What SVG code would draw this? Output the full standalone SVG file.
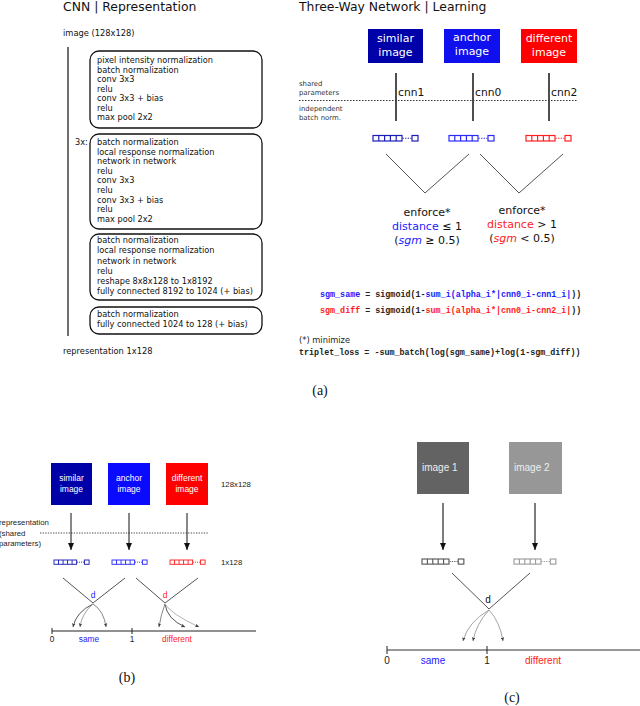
<svg xmlns="http://www.w3.org/2000/svg" xmlns:xlink="http://www.w3.org/1999/xlink" width="640" height="706" viewBox="0 0 640 706">
<style>
.sans{font-family:"DejaVu Sans","Noto Sans",sans-serif;}
.hel{font-family:"Liberation Sans",Arial,sans-serif;}
.mono{font-family:"Liberation Mono","Courier New",monospace;font-weight:bold;font-size:8.4px;}
.serif{font-family:"Liberation Serif","Times New Roman",serif;font-size:14px;}
.box{fill:none;stroke:#111;stroke-width:1.3;}
.bt{font-size:8.2px;fill:#111;}
.blue{fill:#1a1aff;}
.red{fill:#ff1a1a;}
.arm{stroke:#555;stroke-width:1;fill:none;}
.cur{fill:none;stroke-width:0.9;}
</style>
<defs>
<g id="vec" fill="none" stroke="currentColor" stroke-width="1.2">
<rect x="0" y="0" width="29" height="5.5"/>
<line x1="5.8" y1="0" x2="5.8" y2="5.5"/>
<line x1="11.6" y1="0" x2="11.6" y2="5.5"/>
<line x1="17.4" y1="0" x2="17.4" y2="5.5"/>
<line x1="23.2" y1="0" x2="23.2" y2="5.5"/>
<line x1="29.5" y1="2.75" x2="38.5" y2="2.75" stroke-dasharray="1.3,1.3"/>
<rect x="39" y="0" width="6" height="5.5"/>
</g>
<marker id="ah" markerWidth="8" markerHeight="8" refX="7" refY="4" orient="auto" markerUnits="userSpaceOnUse">
<path d="M0,1 L7,4 L0,7 Z" fill="#111"/>
</marker>
<marker id="sh" markerWidth="4" markerHeight="4" refX="3.5" refY="2" orient="auto" markerUnits="userSpaceOnUse">
<path d="M0,0.3 L3.5,2 L0,3.7 Z" fill="#444"/>
</marker>
</defs>

<!-- Panel (a) left: CNN -->
<g id="cnn-panel">
<text class="sans" x="63" y="11" font-size="12.4" fill="#111">CNN | Representation</text>
<text class="sans" x="63" y="36" font-size="8.3" fill="#111">image (128x128)</text>
<line x1="68" y1="47" x2="68" y2="336" stroke="#222" stroke-width="1.3"/>
<text class="sans" x="63" y="354" font-size="8.3" fill="#111">representation 1x128</text>
</g>
<g id="block1">
<rect class="box" x="90" y="51" width="172" height="77" rx="9"/>
<text class="sans bt" x="97" y="63">pixel intensity normalization</text>
<text class="sans bt" x="97" y="72.5">batch normalization</text>
<text class="sans bt" x="97" y="82">conv 3x3</text>
<text class="sans bt" x="97" y="91.5">relu</text>
<text class="sans bt" x="97" y="101">conv 3x3 + bias</text>
<text class="sans bt" x="97" y="110.5">relu</text>
<text class="sans bt" x="97" y="120">max pool 2x2</text>
</g>
<g id="block2">
<text class="sans bt" x="75" y="145">3x:</text>
<rect class="box" x="90" y="134" width="172" height="95" rx="9"/>
<text class="sans bt" x="97" y="145">batch normalization</text>
<text class="sans bt" x="97" y="154.6">local response normalization</text>
<text class="sans bt" x="97" y="164.2">network in network</text>
<text class="sans bt" x="97" y="173.8">relu</text>
<text class="sans bt" x="97" y="183.4">conv 3x3</text>
<text class="sans bt" x="97" y="193">relu</text>
<text class="sans bt" x="97" y="202.6">conv 3x3 + bias</text>
<text class="sans bt" x="97" y="212.2">relu</text>
<text class="sans bt" x="97" y="221.8">max pool 2x2</text>
</g>
<g id="block3">
<rect class="box" x="90" y="234" width="172" height="66" rx="9"/>
<text class="sans bt" x="97" y="243">batch normalization</text>
<text class="sans bt" x="97" y="253">local response normalization</text>
<text class="sans bt" x="97" y="263.5">network in network</text>
<text class="sans bt" x="97" y="274">relu</text>
<text class="sans bt" x="97" y="284">reshape 8x8x128 to 1x8192</text>
<text class="sans bt" x="97" y="294">fully connected 8192 to 1024 (+ bias)</text>
</g>
<g id="block4">
<rect class="box" x="90" y="307" width="172" height="27" rx="9"/>
<text class="sans bt" x="97" y="317">batch normalization</text>
<text class="sans bt" x="97" y="327">fully connected 1024 to 128 (+ bias)</text>
</g>

<!-- Panel (a) right: three-way network -->
<g id="tw-title">
<text class="sans" x="299" y="11" font-size="12.4" fill="#111">Three-Way Network | Learning</text>
<text class="sans" x="299" y="86" font-size="6.9" fill="#333">shared</text>
<text class="sans" x="299" y="94.5" font-size="6.9" fill="#333">parameters</text>
<text class="sans" x="299" y="111" font-size="6.9" fill="#333">independent</text>
<text class="sans" x="299" y="120" font-size="6.9" fill="#333">batch norm.</text>
</g>
<g id="similar-image">
<rect x="368" y="29" width="55" height="34" fill="#0000a8"/>
<text class="sans" x="395.5" y="42" font-size="11" fill="#fff" text-anchor="middle">similar</text>
<text class="sans" x="395.5" y="56" font-size="11" fill="#fff" text-anchor="middle">image</text>
</g>
<g id="anchor-image">
<rect x="444" y="29" width="56" height="34" fill="#1010ee"/>
<text class="sans" x="472" y="41" font-size="11" fill="#fff" text-anchor="middle">anchor</text>
<text class="sans" x="472" y="55" font-size="11" fill="#fff" text-anchor="middle">image</text>
</g>
<g id="different-image">
<rect x="521" y="29" width="56" height="34" fill="#ff0000"/>
<text class="sans" x="549" y="42" font-size="11" fill="#fff" text-anchor="middle">different</text>
<text class="sans" x="549" y="56" font-size="11" fill="#fff" text-anchor="middle">image</text>
</g>
<g id="cnn1">
<line x1="396" y1="73" x2="396" y2="121" stroke="#222" stroke-width="1.6"/>
<text class="sans" x="398" y="96" font-size="10.7" fill="#111">cnn1</text>
<use xlink:href="#vec" x="373" y="135.5" style="color:#1c1cb8"/>
</g>
<g id="cnn0">
<line x1="473" y1="73" x2="473" y2="121" stroke="#222" stroke-width="1.6"/>
<text class="sans" x="475" y="96" font-size="10.7" fill="#111">cnn0</text>
<use xlink:href="#vec" x="449" y="135.5" style="color:#2a2aff"/>
</g>
<g id="cnn2">
<line x1="549" y1="73" x2="549" y2="121" stroke="#222" stroke-width="1.6"/>
<text class="sans" x="551" y="96" font-size="10.7" fill="#111">cnn2</text>
<use xlink:href="#vec" x="526" y="135.5" style="color:#ff2020"/>
</g>
<g id="enforce-same">
<text class="sans" x="427" y="216" font-size="11" fill="#111" text-anchor="middle">enforce*</text>
<text class="sans" x="427" y="230" font-size="11" fill="#111" text-anchor="middle"><tspan class="blue">distance</tspan> ≤ 1</text>
<text class="sans" x="427" y="244" font-size="11" fill="#111" text-anchor="middle">(<tspan class="blue" font-style="italic">sgm</tspan> ≥ 0.5)</text>
</g>
<g id="enforce-diff">
<text class="sans" x="522" y="214" font-size="11" fill="#111" text-anchor="middle">enforce*</text>
<text class="sans" x="522" y="228" font-size="11" fill="#111" text-anchor="middle"><tspan class="red">distance</tspan> &gt; 1</text>
<text class="sans" x="522" y="242" font-size="11" fill="#111" text-anchor="middle">(<tspan class="red" font-style="italic">sgm</tspan> &lt; 0.5)</text>
</g>
<g id="formulas">
<text class="mono" x="320" y="297" fill="#222"><tspan fill="#1a1aff">sgm_same</tspan><tspan> = sigmoid(1-</tspan><tspan fill="#1a1aff">sum_i(alpha_i*|cnn0_i-cnn1_i|</tspan><tspan>))</tspan></text>
<text class="mono" x="320" y="313" fill="#222"><tspan fill="#ff1a1a">sgm_diff</tspan><tspan> = sigmoid(1-</tspan><tspan fill="#ff1a1a">sum_i(alpha_i*|cnn0_i-cnn2_i|</tspan><tspan>))</tspan></text>
<text class="sans" x="299" y="343" font-size="8.3" fill="#222">(*) minimize</text>
<text class="mono" x="299" y="355" fill="#222">triplet_loss = -sum_batch(log(sgm_same)+log(1-sgm_diff))</text>
</g>
<g id="labels">
<text class="serif" x="320" y="395" text-anchor="middle" fill="#111">(a)</text>
<text class="serif" x="127" y="682" text-anchor="middle" fill="#111">(b)</text>
<text class="serif" x="512" y="702" text-anchor="middle" fill="#111">(c)</text>
</g>

<!-- Panel (b) -->
<g id="b-text">
<text class="hel" x="-1" y="525" font-size="7.8" fill="#222">representation</text>
<text class="hel" x="-1" y="536" font-size="7.8" fill="#222">(shared</text>
<text class="hel" x="-1" y="546" font-size="7.8" fill="#222">parameters)</text>
<text class="hel" x="221" y="487" font-size="7.8" fill="#222">128x128</text>
<text class="hel" x="221" y="565" font-size="7.8" fill="#222">1x128</text>
</g>
<g id="b-similar">
<rect x="51" y="463" width="41" height="42" fill="#0000a8"/>
<text class="hel" x="71.5" y="481" font-size="8.5" fill="#fff" text-anchor="middle">similar</text>
<text class="hel" x="71.5" y="492" font-size="8.5" fill="#fff" text-anchor="middle">image</text>
<use xlink:href="#vec" transform="translate(54,560) scale(0.78)" style="color:#1c1cb8"/>
</g>
<g id="b-anchor">
<rect x="108" y="463" width="42" height="42" fill="#0a0aff"/>
<text class="hel" x="129" y="481" font-size="8.5" fill="#fff" text-anchor="middle">anchor</text>
<text class="hel" x="129" y="492" font-size="8.5" fill="#fff" text-anchor="middle">image</text>
<use xlink:href="#vec" transform="translate(112,560) scale(0.78)" style="color:#2a2aff"/>
</g>
<g id="b-different">
<rect x="166" y="463" width="42" height="42" fill="#ff0000"/>
<text class="hel" x="187" y="481" font-size="8.5" fill="#fff" text-anchor="middle">different</text>
<text class="hel" x="187" y="492" font-size="8.5" fill="#fff" text-anchor="middle">image</text>
<use xlink:href="#vec" transform="translate(170,560) scale(0.78)" style="color:#ff2020"/>
</g>
<g id="b-axis">
<line x1="52" y1="631" x2="256" y2="631" stroke="#222" stroke-width="1.2"/>
<line x1="52" y1="628" x2="52" y2="634" stroke="#222" stroke-width="1"/>
<line x1="132" y1="628" x2="132" y2="634" stroke="#222" stroke-width="1"/>
<text class="hel" x="52" y="642" font-size="8.3" fill="#222" text-anchor="middle">0</text>
<text class="hel" x="89" y="642" font-size="8.3" fill="#1a1aff" text-anchor="middle">same</text>
<text class="hel" x="132" y="642" font-size="8.3" fill="#222" text-anchor="middle">1</text>
<text class="hel" x="177" y="642" font-size="8.3" fill="#ff1a1a" text-anchor="middle">different</text>
<text class="hel" x="93" y="598" font-size="8.5" fill="#1a1aff" text-anchor="middle">d</text>
<text class="hel" x="165" y="598" font-size="8.5" fill="#ff1a1a" text-anchor="middle">d</text>
</g>

<!-- Panel (c) -->
<g id="c-image1">
<rect x="417" y="442" width="52" height="52" fill="#636363"/>
<text class="hel" x="422" y="471" font-size="10" fill="#eee">image 1</text>
<use xlink:href="#vec" transform="translate(422,559) scale(0.93)" style="color:#555"/>
</g>
<g id="c-image2">
<rect x="509" y="442" width="53" height="52" fill="#979797"/>
<text class="hel" x="514" y="471" font-size="10" fill="#eee">image 2</text>
<use xlink:href="#vec" transform="translate(514,559) scale(0.93)" style="color:#9a9a9a"/>
</g>
<g id="c-axis">
<line x1="387" y1="650" x2="640" y2="650" stroke="#333" stroke-width="1.2"/>
<line x1="387" y1="646" x2="387" y2="654" stroke="#222" stroke-width="1"/>
<line x1="487" y1="646" x2="487" y2="654" stroke="#222" stroke-width="1"/>
<text class="hel" x="387" y="664" font-size="10" fill="#222" text-anchor="middle">0</text>
<text class="hel" x="433" y="664" font-size="10" fill="#1a1aff" text-anchor="middle">same</text>
<text class="hel" x="487" y="664" font-size="10" fill="#222" text-anchor="middle">1</text>
<text class="hel" x="543" y="664" font-size="10" fill="#ff1a1a" text-anchor="middle">different</text>
<text class="hel" x="488" y="603" font-size="10" fill="#111" text-anchor="middle">d</text>
</g>

<g id="connectors">
<!-- (a) dotted separator -->
<line x1="299" y1="100.5" x2="577" y2="100.5" stroke="#333" stroke-width="1" stroke-dasharray="1.5,1.5"/>
<!-- (a) V lines -->
<polyline class="arm" points="386,154 425,193 469,154"/>
<polyline class="arm" points="480,154 519,193 563,154"/>
<!-- (b) -->
<line x1="40" y1="533" x2="208" y2="533" stroke="#333" stroke-width="0.9" stroke-dasharray="1.3,1.3"/>
<line x1="71" y1="513" x2="71" y2="550" stroke="#111" stroke-width="1" marker-end="url(#ah)"/>
<line x1="129" y1="513" x2="129" y2="550" stroke="#111" stroke-width="1" marker-end="url(#ah)"/>
<line x1="187" y1="513" x2="187" y2="550" stroke="#111" stroke-width="1" marker-end="url(#ah)"/>
<polyline class="arm" points="63,578 93,603 125,578"/>
<polyline class="arm" points="136,578 165,603 198,578"/>
<path class="cur" stroke="#444" d="M93,604 Q76,612 73,627" marker-end="url(#sh)"/>
<path class="cur" stroke="#999" d="M93,604 Q82,613 80,627" marker-end="url(#sh)"/>
<path class="cur" stroke="#777" d="M93,604 Q104,611 106,627" marker-end="url(#sh)"/>
<path class="cur" stroke="#777" d="M165,604 Q161,614 159,627" marker-end="url(#sh)"/>
<path class="cur" stroke="#444" d="M165,604 Q167,619 185,627" marker-end="url(#sh)"/>
<path class="cur" stroke="#aaa" d="M165,604 Q171,614 199,627" marker-end="url(#sh)"/>
<!-- (c) -->
<line x1="443" y1="503" x2="443" y2="550" stroke="#111" stroke-width="1.1" marker-end="url(#ah)"/>
<line x1="535" y1="503" x2="535" y2="550" stroke="#111" stroke-width="1.1" marker-end="url(#ah)"/>
<polyline class="arm" points="452,573 489,609 530,573"/>
<path class="cur" stroke="#999" d="M489,610 Q468,622 463,641" marker-end="url(#sh)"/>
<path class="cur" stroke="#999" d="M489,610 Q476,624 473,641" marker-end="url(#sh)"/>
<path class="cur" stroke="#999" d="M489,610 Q500,622 503,641" marker-end="url(#sh)"/>
</g>
</svg>
